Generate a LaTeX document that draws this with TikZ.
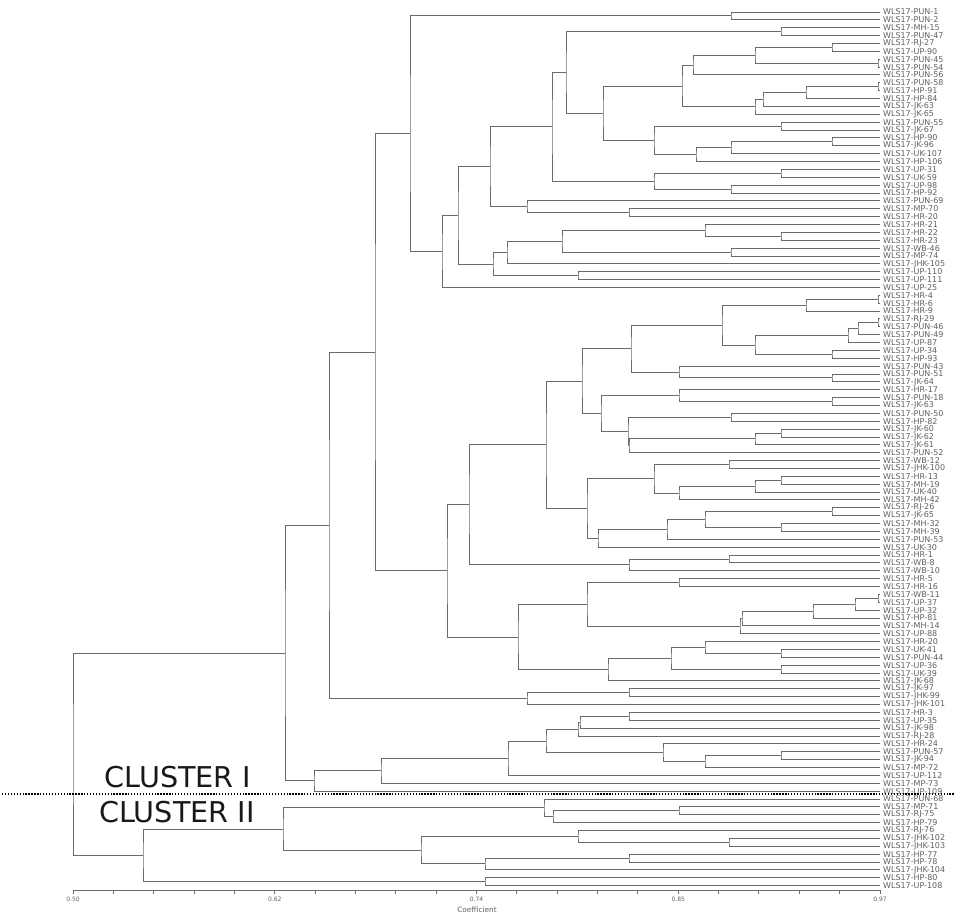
\documentclass[tikz,border=0pt]{standalone}
\usepackage{fontspec}
\newfontfamily\dendrofont{DejaVu Sans}
\usetikzlibrary{calc}

\definecolor{treecolor}{rgb}{0.420000, 0.420000, 0.420000}
\definecolor{labelcolor}{rgb}{0.380000, 0.380000, 0.380000}
\definecolor{clustercolor}{rgb}{0.100000, 0.100000, 0.100000}

\tikzset{
  branch/.style={draw=treecolor, line width=0.7pt},
  leaflabel/.style={anchor=west, inner sep=0pt, xshift=2.2pt, text=labelcolor,
    font=\dendrofont\fontsize{6}{6}\selectfont},
  axisline/.style={draw=treecolor, line width=0.7pt},
  ticklabel/.style={inner sep=0pt, text=labelcolor, font=\dendrofont\fontsize{4.5}{4.5}\selectfont},
  axistitle/.style={inner sep=0pt, text=labelcolor, font=\dendrofont\fontsize{5.5}{5.5}\selectfont},
  clusterlabel/.style={inner sep=0pt, text=clustercolor, font=\dendrofont\fontsize{21.5}{21.5}\selectfont},
  cutline/.style={draw=black, line width=0.8pt, dash pattern=on 1pt off 1.2pt}
}

% name, x, child, child
\newcommand{\dmerge}[4]{%
  \coordinate (mtmp) at ($(#3)!0.5!(#4)$);
  \coordinate (#1) at (mtmp -| #2,0);
  \draw[branch] (#3) -| (#1) |- (#4);
}

\begin{document}
\begin{tikzpicture}[x=0.75pt, y=-0.75pt]
\fill[white] (0,0) rectangle (957,921);
\useasboundingbox (0,0) rectangle (957,921);

% leaves
\foreach \lab [count=\i] in {WLS17-PUN-1, WLS17-PUN-2, WLS17-MH-15, WLS17-PUN-47,
  WLS17-RJ-27, WLS17-UP-90, WLS17-PUN-45, WLS17-PUN-54, WLS17-PUN-56, WLS17-PUN-58,
  WLS17-HP-91, WLS17-HP-84, WLS17-JK-63, WLS17-JK-65, WLS17-PUN-55, WLS17-JK-67,
  WLS17-HP-90, WLS17-JK-96, WLS17-UK-107, WLS17-HP-106, WLS17-UP-31, WLS17-UK-59,
  WLS17-UP-98, WLS17-HP-92, WLS17-PUN-69, WLS17-MP-70, WLS17-HR-20, WLS17-HR-21,
  WLS17-HR-22, WLS17-HR-23, WLS17-WB-46, WLS17-MP-74, WLS17-JHK-105, WLS17-UP-110,
  WLS17-UP-111, WLS17-UP-25, WLS17-HR-4, WLS17-HR-6, WLS17-HR-9, WLS17-RJ-29,
  WLS17-PUN-46, WLS17-PUN-49, WLS17-UP-87, WLS17-UP-34, WLS17-HP-93, WLS17-PUN-43,
  WLS17-PUN-51, WLS17-JK-64, WLS17-HR-17, WLS17-PUN-18, WLS17-JK-63, WLS17-PUN-50,
  WLS17-HP-82, WLS17-JK-60, WLS17-JK-62, WLS17-JK-61, WLS17-PUN-52, WLS17-WB-12,
  WLS17-JHK-100, WLS17-HR-13, WLS17-MH-19, WLS17-UK-40, WLS17-MH-42, WLS17-RJ-26,
  WLS17-JK-65, WLS17-MH-32, WLS17-MH-39, WLS17-PUN-53, WLS17-UK-30, WLS17-HR-1,
  WLS17-WB-8, WLS17-WB-10, WLS17-HR-5, WLS17-HR-16, WLS17-WB-11, WLS17-UP-37,
  WLS17-UP-32, WLS17-HP-81, WLS17-MH-14, WLS17-UP-88, WLS17-HR-20, WLS17-UK-41,
  WLS17-PUN-44, WLS17-UP-36, WLS17-UK-39, WLS17-JK-68, WLS17-JK-97, WLS17-JHK-99,
  WLS17-JHK-101, WLS17-HR-3, WLS17-UP-35, WLS17-JK-98, WLS17-RJ-28, WLS17-HR-24,
  WLS17-PUN-57, WLS17-JK-94, WLS17-MP-72, WLS17-UP-112, WLS17-MP-73, WLS17-UP-109,
  WLS17-PUN-68, WLS17-MP-71, WLS17-RJ-75, WLS17-HP-79, WLS17-RJ-76, WLS17-JHK-102,
  WLS17-JHK-103, WLS17-HP-77, WLS17-HP-78, WLS17-JHK-104, WLS17-HP-80, WLS17-UP-108}
{
  \coordinate (l\i) at (880, {12+(\i-1)*7.87});
  \node[leaflabel] (t\i) at (l\i) {\lab};
}

% cluster I, upper group
\dmerge{a1}{731}{l1}{l2}
\dmerge{a2}{781}{l3}{l4}
\dmerge{a3}{832}{l5}{l6}
\dmerge{a4}{878}{l7}{l8}
\dmerge{a5}{755}{a3}{a4}
\dmerge{a6}{693}{a5}{l9}
\dmerge{a7}{878}{l10}{l11}
\dmerge{a8}{806}{a7}{l12}
\dmerge{a9}{763}{a8}{l13}
\dmerge{a10}{755}{a9}{l14}
\dmerge{a11}{682}{a6}{a10}
\dmerge{a12}{781}{l15}{l16}
\dmerge{a13}{832}{l17}{l18}
\dmerge{a14}{731}{a13}{l19}
\dmerge{a15}{696}{a14}{l20}
\dmerge{a16}{654}{a12}{a15}
\dmerge{a17}{603}{a11}{a16}
\dmerge{a18}{566}{a2}{a17}
\dmerge{a19}{781}{l21}{l22}
\dmerge{a20}{731}{l23}{l24}
\dmerge{a21}{654}{a19}{a20}
\dmerge{a22}{552}{a18}{a21}
\dmerge{a23}{629}{l26}{l27}
\dmerge{a24}{527}{l25}{a23}
\dmerge{a25}{490}{a22}{a24}
\dmerge{a26}{781}{l29}{l30}
\dmerge{a27}{705}{l28}{a26}
\dmerge{a28}{731}{l31}{l32}
\dmerge{a29}{562}{a27}{a28}
\dmerge{a30}{507}{a29}{l33}
\dmerge{a31}{578}{l34}{l35}
\dmerge{a32}{493}{a30}{a31}
\dmerge{a33}{458}{a25}{a32}
\dmerge{a34}{442}{a33}{l36}
\dmerge{a35}{410}{a1}{a34}

% cluster I, middle group
\dmerge{b1}{878}{l37}{l38}
\dmerge{b2}{806}{b1}{l39}
\dmerge{b3}{878}{l40}{l41}
\dmerge{b4}{858}{b3}{l42}
\dmerge{b5}{848}{b4}{l43}
\dmerge{b6}{832}{l44}{l45}
\dmerge{b7}{755}{b5}{b6}
\dmerge{b8}{722}{b2}{b7}
\dmerge{b9}{832}{l47}{l48}
\dmerge{b10}{679}{l46}{b9}
\dmerge{b11}{631}{b8}{b10}
\dmerge{b12}{832}{l50}{l51}
\dmerge{b13}{679}{l49}{b12}
\dmerge{b14}{731}{l52}{l53}
\dmerge{b15}{781}{l54}{l55}
\dmerge{b16}{755}{b15}{l56}
\dmerge{b17}{629}{b16}{l57}
\dmerge{b18}{628}{b14}{b17}
\dmerge{b19}{601}{b13}{b18}
\dmerge{b20}{582}{b11}{b19}
\dmerge{b21}{729}{l58}{l59}
\dmerge{b22}{781}{l60}{l61}
\dmerge{b23}{755}{b22}{l62}
\dmerge{b24}{679}{b23}{l63}
\dmerge{b25}{654}{b21}{b24}
\dmerge{b26}{832}{l64}{l65}
\dmerge{b27}{781}{l66}{l67}
\dmerge{b28}{705}{b26}{b27}
\dmerge{b29}{667}{b28}{l68}
\dmerge{b30}{598}{b29}{l69}
\dmerge{b31}{587}{b25}{b30}
\dmerge{b32}{546}{b20}{b31}
\dmerge{b33}{729}{l70}{l71}
\dmerge{b34}{629}{b33}{l72}
\dmerge{b35}{469}{b32}{b34}
\dmerge{b36}{679}{l73}{l74}
\dmerge{b37}{878}{l75}{l76}
\dmerge{b38}{855}{b37}{l77}
\dmerge{b39}{813}{b38}{l78}
\dmerge{b40}{742}{b39}{l79}
\dmerge{b41}{740}{b40}{l80}
\dmerge{b42}{587}{b36}{b41}
\dmerge{b43}{781}{l82}{l83}
\dmerge{b44}{705}{l81}{b43}
\dmerge{b45}{781}{l84}{l85}
\dmerge{b46}{671}{b44}{b45}
\dmerge{b47}{608}{b46}{l86}
\dmerge{b48}{518}{b42}{b47}
\dmerge{b49}{447}{b35}{b48}
\dmerge{b50}{375}{a35}{b49}
\dmerge{b51}{629}{l87}{l88}
\dmerge{b52}{527}{b51}{l89}
\dmerge{b53}{329}{b50}{b52}

% cluster I, lower group
\dmerge{c1}{629}{l90}{l91}
\dmerge{c2}{580}{c1}{l92}
\dmerge{c3}{578}{c2}{l93}
\dmerge{c4}{781}{l95}{l96}
\dmerge{c5}{705}{c4}{l97}
\dmerge{c6}{663}{l94}{c5}
\dmerge{c7}{546}{c3}{c6}
\dmerge{c8}{508}{c7}{l98}
\dmerge{c9}{381}{c8}{l99}
\dmerge{c10}{314}{c9}{l100}
\dmerge{c11}{285}{b53}{c10}

% cluster II
\dmerge{d1}{679}{l102}{l103}
\dmerge{d2}{553}{d1}{l104}
\dmerge{d3}{544}{l101}{d2}
\dmerge{d4}{729}{l106}{l107}
\dmerge{d5}{578}{l105}{d4}
\dmerge{d6}{629}{l108}{l109}
\dmerge{d7}{485}{d6}{l110}
\dmerge{d8}{421}{d5}{d7}
\dmerge{d9}{283}{d3}{d8}
\dmerge{d10}{485}{l111}{l112}
\dmerge{d11}{143}{d9}{d10}
\dmerge{root}{73}{c11}{d11}

% cut between the clusters
\coordinate (cutL) at (2,794);
\coordinate (cutR) at (955,794);
\draw[cutline] (cutL) -- (cutR);
\node[clusterlabel] (clusterI) at (178,777) {CLUSTER I};
\node[clusterlabel] (clusterII) at (177,812) {CLUSTER II};

% axis
\coordinate (ax0) at (73,890);
\coordinate (ax1) at (880,890);
\draw[axisline] (ax0) -- (ax1);
\foreach \k in {0,...,20}
  \draw[axisline] ($(ax0)!\k/20!(ax1)$) -- ++(0,4);
\foreach \v [count=\k from 0] in {0.50,0.62,0.74,0.85,0.97}
  \node[ticklabel] (tick\k) at ($(ax0)!\k/4!(ax1)+(0,9)$) {\v};
\node[axistitle] (coef) at (477,910) {Coefficient};
\end{tikzpicture}
\end{document}
